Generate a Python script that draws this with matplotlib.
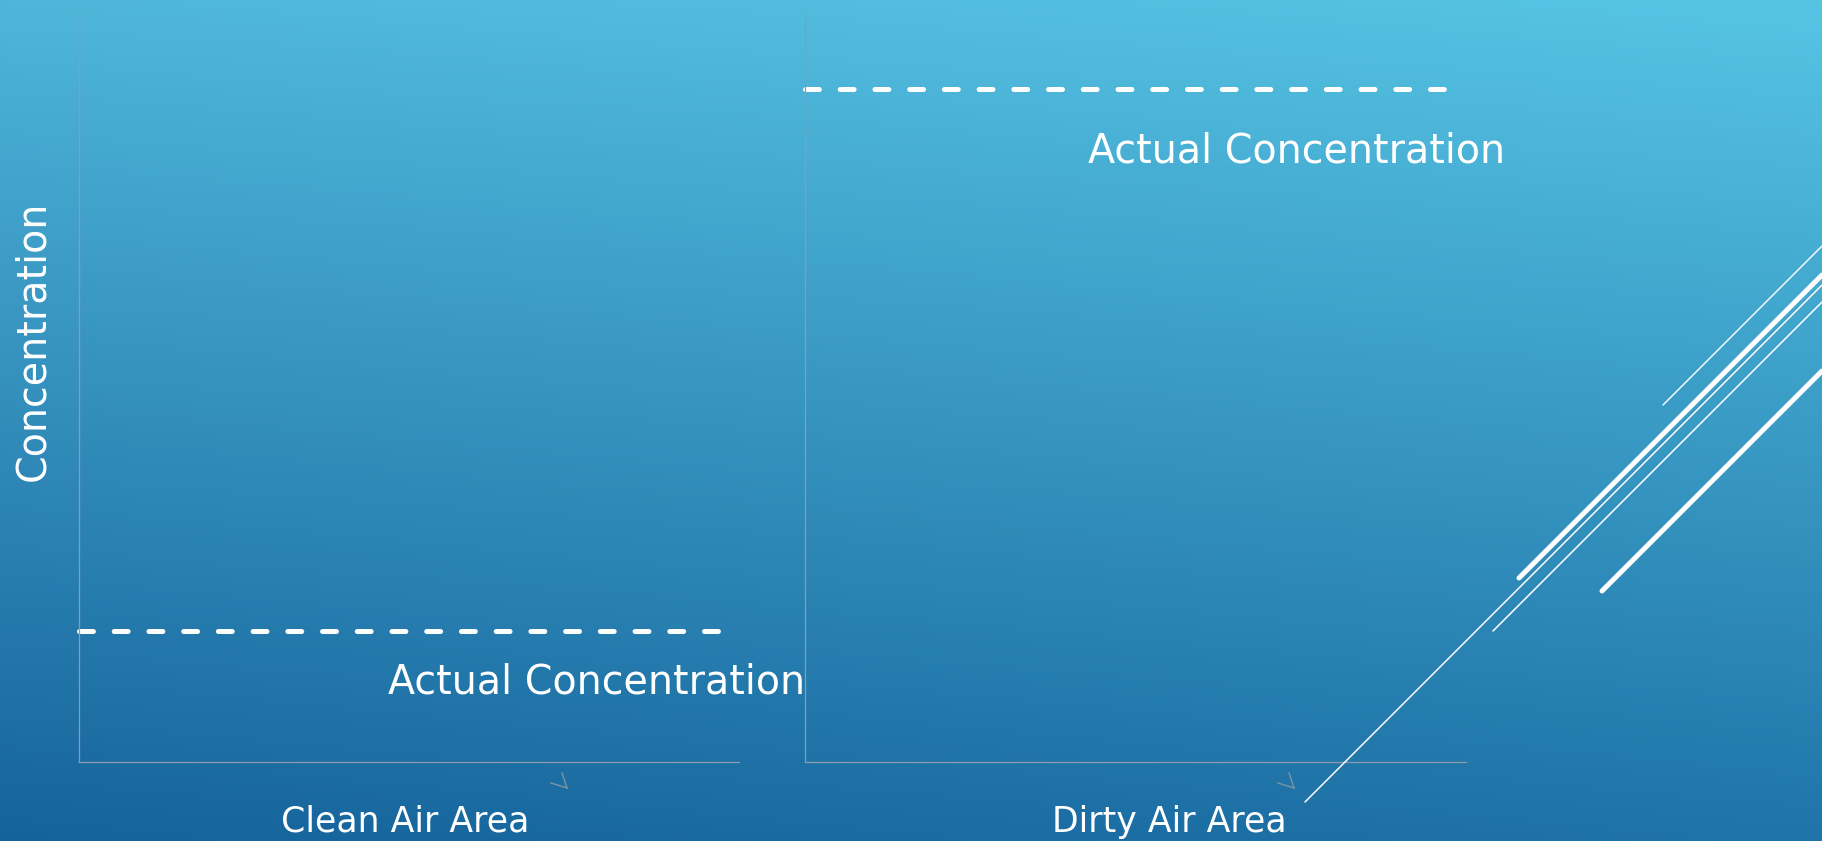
import numpy as np
import matplotlib
matplotlib.use("Agg")
import matplotlib.pyplot as plt

# %%
# datos
paneles = ["Clean Air Area", "Dirty Air Area"]
concentracion = [0.175, 0.898]   # nivel de la linea discontinua (0..1)
largo_linea = [0.971, 0.973]     # hasta donde llega la linea en x
etiqueta = "Actual Concentration"
etiqueta_y = "Concentration"

# %%
W, H = 1822, 841
plt.rcParams["font.family"] = ["DejaVu Sans"]
plt.rcParams["lines.scale_dashes"] = False

fig = plt.figure(figsize=(W / 100, H / 100), dpi=100)


def px(x, y):
    return x / W, 1 - y / H


# fondo con degradado (interpolacion de las 4 esquinas)
tl = np.array([0x4f, 0xb6, 0xda]) / 255
tr = np.array([0x56, 0xc5, 0xe4]) / 255
bl = np.array([0x15, 0x63, 0x9b]) / 255
br = np.array([0x1f, 0x74, 0xa8]) / 255
u = np.linspace(0, 1, 300)[None, :, None]
v = np.linspace(0, 1, 300)[:, None, None]
grad = (1 - v) * ((1 - u) * tl + u * tr) + v * ((1 - u) * bl + u * br)

bg = fig.add_axes([0, 0, 1, 1])
bg.imshow(grad, extent=[0, 1, 0, 1], aspect="auto")
bg.set_xlim(0, 1)
bg.set_ylim(0, 1)
bg.axis("off")

# decoracion (lineas diagonales a la derecha)
decor = [
    ((1663, 405), (1822, 246), 1.0),
    ((1519, 578), (1822, 275), 3.6),
    ((1305, 802), (1822, 285), 1.1),
    ((1493, 631), (1822, 302), 1.1),
    ((1602, 591), (1822, 371), 3.6),
]
for p0, p1, lw in decor:
    a, b = px(*p0), px(*p1)
    fig.add_artist(plt.Line2D([a[0], b[0]], [a[1], b[1]], transform=fig.transFigure,
                              color="white", lw=lw, solid_capstyle="round", zorder=5))

# paneles
pos = [[79 / W, 79 / H, 660 / W, 750 / H], [805 / W, 79 / H, 661 / W, 750 / H]]
texto_pos = [(1.10, 0.091), (1.059, 0.799)]
centro_x = [405, 1169]

for i in range(2):
    ax = fig.add_axes(pos[i])
    ax.patch.set_alpha(0)
    ax.set_xlim(0, 1)
    ax.set_ylim(0, 1)
    ax.set_xticks([])
    ax.set_yticks([])
    for s in ["top", "right"]:
        ax.spines[s].set_visible(False)
    for s in ["left", "bottom"]:
        ax.spines[s].set_color("#8c9cab")
        ax.spines[s].set_linewidth(0.9)

    ax.plot([0, largo_linea[i]], [concentracion[i], concentracion[i]],
            color="white", lw=3.6, dashes=(10, 15), dash_capstyle="round",
            clip_on=False)
    ax.text(texto_pos[i][0], texto_pos[i][1], etiqueta, transform=ax.transAxes,
            ha="right", va="baseline", color="white", fontsize=28.5,
            clip_on=False)
    fig.text(*px(centro_x[i], 832), paneles[i], ha="center", va="baseline",
             color="white", fontsize=25)

fig.text(*px(33, 341), etiqueta_y, rotation=90, ha="center", va="center",
         color="white", fontsize=28.5)

# pequenas marcas grises bajo los ejes
for x0 in [551, 1278]:
    for p0, p1 in [((x0, 783), (x0 + 16, 788)), ((x0 + 11, 773), (x0 + 16, 788))]:
        a, b = px(*p0), px(*p1)
        fig.add_artist(plt.Line2D([a[0], b[0]], [a[1], b[1]], transform=fig.transFigure,
                                  color="#7f93a3", lw=1.0))

fig.savefig("out.png", dpi=100)
